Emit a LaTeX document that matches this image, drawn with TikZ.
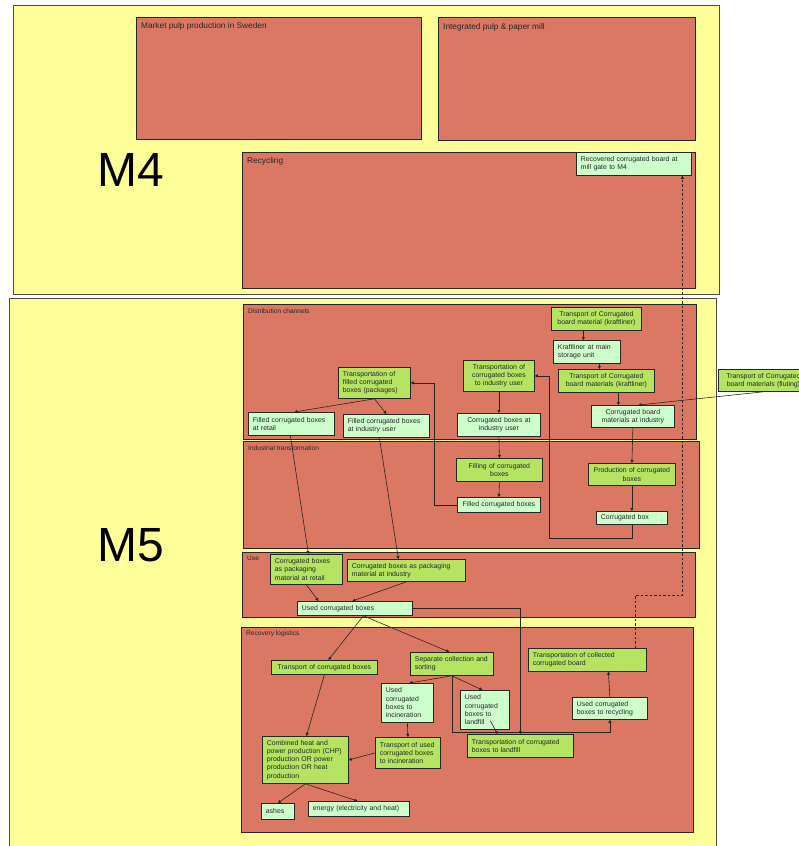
\documentclass[tikz,border=0pt]{standalone}
\usepackage{fontspec}
\setmainfont{Liberation Sans}
\usetikzlibrary{arrows.meta}

\definecolor{zoneyellow}{HTML}{FFFF99}
\definecolor{regionred}{HTML}{DA7863}
\definecolor{actgreen}{HTML}{B4E462}
\definecolor{stockgreen}{HTML}{CCFFCC}

\tikzset{
  zone/.style={fill=zoneyellow, draw=black!70, line width=0.9pt},
  region/.style={fill=regionred, draw=black!85, line width=0.8pt},
  regionlabel/.style={anchor=north west, inner sep=0pt, text=black!85,
    font=\fontsize{6.6}{7.5}\selectfont},
  toplabel/.style={anchor=north west, inner sep=0pt, text=black!85,
    font=\fontsize{8.3}{9.5}\selectfont},
  biglabel/.style={inner sep=0pt, font=\fontsize{48}{48}\selectfont},
  box/.style={anchor=north west, draw=black!85, line width=0.8pt, text=black!85,
    font=\fontsize{6.9}{8.3}\selectfont, inner ysep=1.5pt},
  act/.style={box, fill=actgreen},
  stock/.style={box, fill=stockgreen},
  % left-aligned text box of given width and height
  lw/.code 2 args={\pgfmathsetmacro\boxtw{#1-9}%
    \edef\boxtmp{\noexpand\tikzset{minimum width=#1pt, minimum height=#2pt,
      inner xsep=4.5pt, text width=\boxtw pt, align=left}}\boxtmp},
  % centred text box of given width and height
  cw/.code 2 args={\pgfmathsetmacro\boxtw{#1-6}%
    \edef\boxtmp{\noexpand\tikzset{minimum width=#1pt, minimum height=#2pt,
      inner xsep=3pt, text width=\boxtw pt, align=center}}\boxtmp},
  flow/.style={draw=black!85, line width=0.6pt, -{Triangle[length=3pt,width=3pt]}},
  flowdash/.style={flow, dash pattern=on 2.5pt off 2pt}
}

\begin{document}
\begin{tikzpicture}[x=1pt,y=-1pt]
\path[use as bounding box] (0,0) rectangle (799,846);
\clip (0,0) rectangle (799,846);
\fill[white] (0,0) rectangle (799,846);

% ---- the two model zones
\path[zone] (13,5) rectangle (719,294);
\path[zone] (9,298) rectangle (716,870);
\node[biglabel] (m4) at (131,170) {M4};
\node[biglabel] (m5) at (131,545) {M5};

% ---- M4 regions
\path[region] (136,17) rectangle (421,139);
\node[toplabel] (lpulp) at (141,22) {Market pulp production in Sweden};
\path[region] (438,17) rectangle (695,140);
\node[toplabel] (lmill) at (443,23) {Integrated pulp \& paper mill};
\path[region] (242,152) rectangle (695,288);
\node[toplabel] (lrec) at (247,157) {Recycling};

% ---- M5 regions
\path[region] (243,304) rectangle (696,439);
\node[regionlabel] (ldist) at (248,309) {Distribution channels};
\path[region] (243,441) rectangle (699,548);
\node[regionlabel] (lind) at (248,446) {Industrial transformation};
\path[region] (242,552) rectangle (695,617);
\node[regionlabel] (luse) at (247,556) {Use};
\path[region] (241,627) rectangle (693,832);
\node[regionlabel] (lrl) at (246,631) {Recovery logistics};

% ---- recycling
\node[stock, lw={115}{23}] (rcb) at (576,152) {Recovered corrugated board at\\mill gate to M4};

% ---- distribution channels
\node[act, cw={90}{23}] (tkl) at (551,307) {Transport of Corrugated\\board material (kraftliner)};
\node[stock, lw={67}{23}] (kms) at (553,340) {Kraftliner at main\\storage unit};
\node[act, cw={96}{23}] (tkl2) at (558,369) {Transport of Corrugated\\board materials (kraftliner)};
\node[stock, cw={83}{22}] (cbm) at (591,405) {Corrugated board\\materials at industry};
\node[act, cw={90}{22}] (tfl) at (718,369) {Transport of Corrugated\\board materials (fluting)};
\node[act, cw={71}{31}] (tiu) at (463,360) {Transportation of\\corrugated boxes\\to industry user};
\node[stock, cw={83}{23}] (cbiu) at (457,413) {Corrugated boxes at\\industry user};
\node[act, lw={72}{31}] (tfp) at (338,367) {Transportation of\\filled corrugated\\boxes (packages)};
\node[stock, lw={86}{23}] (fret) at (248,412) {Filled corrugated boxes\\at retail};
\node[stock, lw={86}{23}] (find) at (343,414) {Filled corrugated boxes\\at industry user};

% ---- industrial transformation
\node[act, cw={86}{23}] (fill) at (456,458) {Filling of corrugated\\boxes};
\node[stock, cw={83}{15}] (fcb) at (457,497) {Filled corrugated boxes};
\node[act, cw={87}{22}] (prod) at (588,463) {Production of corrugated\\boxes};
\node[stock, lw={71}{13}] (cbx) at (596,511) {Corrugated box};

% ---- use
\node[act, lw={72}{30}] (cbr) at (270,554) {Corrugated boxes\\as packaging\\material at retail};
\node[act, lw={118}{22}] (cbi) at (347,559) {Corrugated boxes as packaging\\material at industry};
\node[stock, lw={115}{14}] (ucb) at (297,601) {Used corrugated boxes};

% ---- recovery logistics
\node[act, cw={106}{14}] (tcb) at (271,660) {Transport of corrugated boxes};
\node[act, lw={83}{23}] (scs) at (410,652) {Separate collection and\\sorting};
\node[stock, lw={52}{39}] (uinc) at (381,683) {Used\\corrugated\\boxes to\\incineration};
\node[stock, lw={49}{39}] (ulf) at (460,690) {Used\\corrugated\\boxes to\\landfill};
\node[act, lw={106}{23}] (tlf) at (467,734) {Transportation of corrugated\\boxes to landfill};
\node[stock, lw={75}{22}] (urec) at (572,697) {Used corrugated\\boxes to recycling};
\node[act, lw={118}{23}] (tcol) at (528,648) {Transportation of collected\\corrugated board};
\node[act, lw={86}{47}] (chp) at (262,736) {Combined heat and\\power production (CHP)\\production OR power\\production OR heat\\production};
\node[act, lw={65}{31}] (tinc) at (375,737) {Transport of used\\corrugated boxes\\to incineration};
\node[stock, lw={33}{16}] (ash) at (261,803) {ashes};
\node[stock, lw={101}{15}] (nrg) at (308,801) {energy (electricity and heat)};

% ---- flows: board supply and box production
\draw[flow] ([xshift=-13pt]tkl.south) -- ([xshift=-3.5pt]kms.north);
\draw[flow] ([xshift=12.5pt]kms.south) -- ([xshift=-7pt]tkl2.north);
\draw[flow] ([xshift=12pt]tkl2.south) -- ([xshift=-14.5pt]cbm.north);
\draw[flow] (tfl.south) -- ([xshift=5.5pt]cbm.north);
\draw[flow] (cbm.south) -- (prod.north);
\draw[flow] (prod.south) -- (cbx.north);
\draw[flow] (cbx.south) -- ++(0,13) -| ([xshift=14pt]tiu.east) -- (tiu.east);

% ---- flows: filling and distribution
\draw[flow] (tiu.south) -- (cbiu.north);
\draw[flow] (cbiu.south) -- (fill.north);
\draw[flow] (fill.south) -- (fcb.north);
\draw[flow] (fcb.west) -| ([xshift=23pt]tfp.east) -- (tfp.east);
\draw[flow] (tfp.south) -- ([xshift=3pt]fret.north);
\draw[flow] (tfp.south) -- (find.north);
\draw[flow] ([xshift=-1pt]fret.south) -- ([xshift=2pt]cbr.north);
\draw[flow] ([xshift=-7pt]find.south) -- ([xshift=-8pt]cbi.north);

% ---- flows: use
\draw[flow] (cbr.south) -- ([xshift=-36.5pt]ucb.north);
\draw[flow] (cbi.south) -- ([xshift=-2.5pt]ucb.north);
\draw[flow] (ucb.east) -| (tlf.north);

% ---- flows: recovery
\draw[flow] ([xshift=8.5pt]ucb.south) -- ([xshift=4pt]tcb.north);
\draw[flow] ([xshift=8.5pt]ucb.south) -- ([xshift=-2.5pt]scs.north);
\draw[flow] (scs.south) -- ([xshift=2pt]uinc.north);
\draw[flow] (scs.south) -- ([xshift=-2.5pt]ulf.north);
\draw[flow] (scs.south) |- ([yshift=-12pt]urec.south) -- (urec.south);
\draw[flow] ([xshift=5.5pt,yshift=9pt]ulf.south) -- ([xshift=-23pt]tlf.north);
\draw[flow] (urec.north) -- ([xshift=21pt]tcol.south);
\draw[flowdash] ([xshift=48pt]tcol.north) |- ([xshift=48.5pt,yshift=-419pt]rcb.south) -- ([xshift=48.5pt]rcb.south);
\draw[flow] (tcb.south) -- ([xshift=1pt]chp.north);
\draw[flow] (uinc.south) -- (tinc.north);
\draw[flow] (tinc.west) -- (chp.east);
\draw[flow] (chp.south) -- (ash.north);
\draw[flow] (chp.south) -- ([xshift=-1.5pt]nrg.north);
\end{tikzpicture}
\end{document}
